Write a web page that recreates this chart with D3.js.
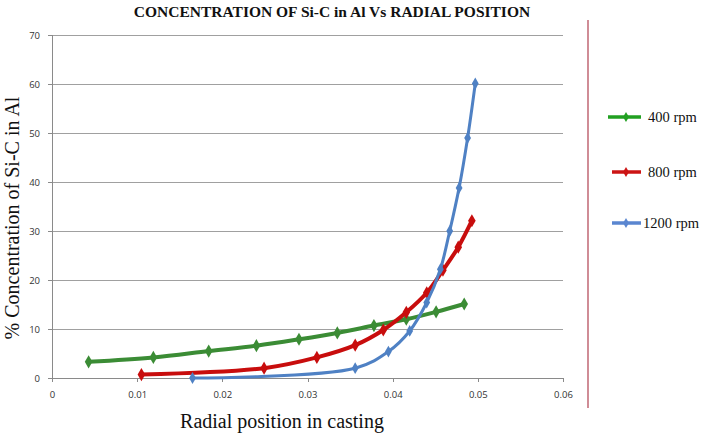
<!DOCTYPE html>
<html><head><meta charset="utf-8">
<script src="https://cdn.jsdelivr.net/npm/d3@7"></script>
<style>body{margin:0;background:#fff}svg{display:block}</style>
</head><body>
<script>
const seriesNames = ["400 rpm", "800 rpm", "1200 rpm"];
const x400 = [0.0043, 0.0119, 0.0184, 0.0240, 0.0290, 0.0335, 0.0378, 0.0416, 0.0451, 0.0484];
const y400 = [3.3, 4.2, 5.5, 6.6, 7.9, 9.2, 10.7, 12.0, 13.5, 15.1];
const x800 = [0.0105, 0.0249, 0.0311, 0.0356, 0.0389, 0.0416, 0.0440, 0.0459, 0.0477, 0.0493];
const y800 = [0.7, 2.0, 4.2, 6.7, 9.8, 13.4, 17.4, 22.0, 26.7, 32.1];
const x1200 = [0.0165, 0.0356, 0.0395, 0.0420, 0.0440, 0.0456, 0.0467, 0.0478, 0.0488, 0.0497];
const y1200 = [0.0, 2.0, 5.4, 9.6, 15.4, 22.2, 30.0, 38.8, 49.0, 60.1];
const xTicks = [0, 0.01, 0.02, 0.03, 0.04, 0.05, 0.06];
const yTicks = [0, 10, 20, 30, 40, 50, 60, 70];
const colors = ["#3b8c35", "#c80d0d", "#4f81c4"];
const legendColors = ["#22a022", "#cc1414", "#5a86d0"];

const W = 706, H = 436;
const svg = d3.select("body").append("svg").attr("width", W).attr("height", H);
const x = d3.scaleLinear().domain([0, 0.06]).range([52, 563]);
const y = d3.scaleLinear().domain([0, 70]).range([378, 35]);

// gridlines
svg.append("g").selectAll("line").data(yTicks.filter(d => d > 0)).join("line")
  .attr("x1", x(0)).attr("x2", x(0.06)).attr("y1", d => y(d)).attr("y2", d => y(d))
  .attr("stroke", "#a0a0a0").attr("stroke-width", 1).attr("shape-rendering", "crispEdges");

// axes
const yAxis = svg.append("g").attr("transform", `translate(${x(0)},0)`)
  .call(d3.axisLeft(y).tickValues(yTicks).tickSize(4).tickPadding(8).tickFormat(d3.format("d")));
const xAxis = svg.append("g").attr("transform", `translate(0,${y(0)})`)
  .call(d3.axisBottom(x).tickValues(xTicks).tickSize(4).tickPadding(9).tickFormat(d => d === 0 ? "0" : d3.format(".2f")(d)));
[yAxis, xAxis].forEach(a => {
  a.selectAll("path,line").attr("stroke", "#8a8a8a").attr("shape-rendering", "crispEdges");
  a.selectAll("text").attr("font-family", "'Open Sans', 'DejaVu Sans', sans-serif").attr("font-size", 9.5).attr("fill", "#333");
});

// series
const data = [
  x400.map((v, i) => [v, y400[i]]),
  x800.map((v, i) => [v, y800[i]]),
  x1200.map((v, i) => [v, y1200[i]])
];
const widths = [4, 4, 3];
const line = d3.line().x(d => x(d[0])).y(d => y(d[1])).curve(d3.curveCatmullRom.alpha(0.5));
const diamond = d3.symbol().type(d3.symbolDiamond);
data.forEach((s, i) => {
  svg.append("path").attr("d", line(s)).attr("fill", "none")
    .attr("stroke", colors[i]).attr("stroke-width", widths[i]).attr("stroke-linejoin", "round");
  svg.append("g").selectAll("path").data(s).join("path")
    .attr("d", diamond.size(i === 2 ? 40 : 50))
    .attr("transform", d => `translate(${x(d[0])},${y(d[1])})`)
    .attr("fill", colors[i]);
});

// title
svg.append("text").attr("x", 332).attr("y", 17).attr("text-anchor", "middle")
  .attr("font-family", "'Liberation Serif', 'Times New Roman', serif").attr("font-weight", "bold")
  .attr("font-size", 15.5).attr("fill", "#111")
  .text("CONCENTRATION OF Si-C in Al Vs RADIAL POSITION");

// axis titles
svg.append("text").attr("x", 282).attr("y", 428).attr("text-anchor", "middle")
  .attr("font-family", "'Liberation Serif', 'Times New Roman', serif").attr("font-size", 20).attr("fill", "#111")
  .text("Radial position in casting");
svg.append("text").attr("transform", "translate(19,218) rotate(-90)").attr("text-anchor", "middle")
  .attr("font-family", "'Liberation Serif', 'Times New Roman', serif").attr("font-size", 20).attr("fill", "#111")
  .text("% Concentration of Si-C in Al");

// red frame line
svg.append("line").attr("x1", 588).attr("x2", 588).attr("y1", 20).attr("y2", 408)
  .attr("stroke", "#b04050").attr("stroke-width", 1.2);

// legend
const legY = [117, 172, 223];
const legX1 = [608, 612, 612];
const textX = [648, 648, 643];
seriesNames.forEach((n, i) => {
  svg.append("line").attr("x1", legX1[i]).attr("x2", 641).attr("y1", legY[i]).attr("y2", legY[i])
    .attr("stroke", legendColors[i]).attr("stroke-width", 3.5);
  svg.append("path").attr("d", diamond.size(30)).attr("transform", `translate(626,${legY[i]})`).attr("fill", legendColors[i]);
  svg.append("text").attr("x", textX[i]).attr("y", legY[i] + 5)
    .attr("font-family", "'Liberation Serif', 'Times New Roman', serif").attr("font-size", 14.5).attr("fill", "#111")
    .text(n);
});
</script>
</body></html>
